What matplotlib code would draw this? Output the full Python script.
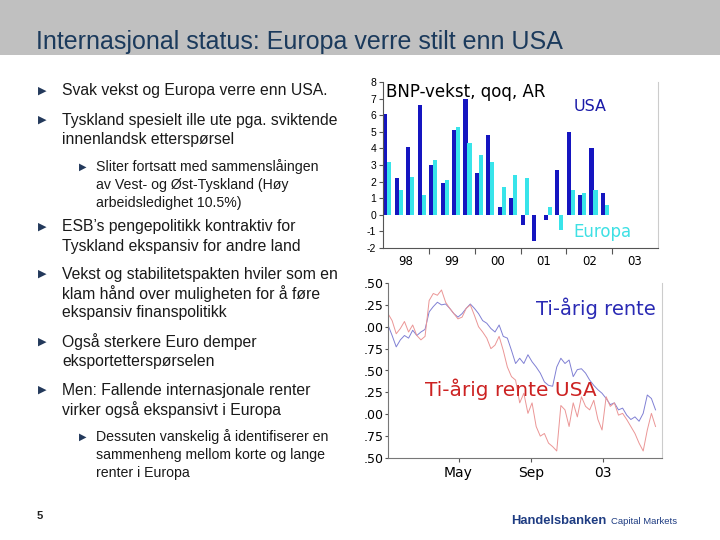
import numpy as np
import pandas as pd
import matplotlib
matplotlib.use("Agg")
import matplotlib.pyplot as plt
from matplotlib.ticker import FuncFormatter

plt.rcParams['font.family'] = ['Liberation Sans', 'DejaVu Sans']

# --- BNP-vekst, qoq, AR (1998Q1 - 2002Q4)
quarters = [str(y) + "Q" + str(q) for y in range(1998, 2003) for q in range(1, 5)]
bnp_usa = [6.1, 2.2, 4.1, 6.6, 3.0, 1.9, 5.1, 7.0, 2.5, 4.8,
           0.5, 1.0, -0.6, -1.6, -0.3, 2.7, 5.0, 1.2, 4.0, 1.3]
bnp_europa = [3.2, 1.5, 2.3, 1.2, 3.3, 2.1, 5.3, 4.3, 3.6, 3.2,
              1.7, 2.4, 2.2, 0.0, 0.5, -0.9, 1.5, 1.3, 1.5, 0.6]
year_labels = ["98", "99", "00", "01", "02", "03"]

# --- Ti-årig rente, ukentlig fra jan 2002
rente_europa = [5.02, 4.90, 4.77, 4.85, 4.90, 4.87, 4.96, 4.90, 4.94, 4.97,
                5.17, 5.23, 5.28, 5.25, 5.26, 5.21, 5.15, 5.11, 5.15, 5.21,
                5.26, 5.21, 5.15, 5.07, 5.04, 4.98, 4.94, 5.02, 4.89, 4.87,
                4.73, 4.58, 4.64, 4.58, 4.68, 4.60, 4.54, 4.47, 4.37, 4.33,
                4.32, 4.54, 4.64, 4.58, 4.62, 4.43, 4.51, 4.52, 4.47, 4.39,
                4.33, 4.28, 4.24, 4.18, 4.11, 4.13, 4.05, 4.07, 3.99, 3.94,
                3.97, 3.92, 4.01, 4.22, 4.18, 4.05]
rente_usa = [5.15, 5.07, 4.92, 4.98, 5.06, 4.94, 5.02, 4.90, 4.85, 4.89,
             5.30, 5.38, 5.36, 5.42, 5.28, 5.21, 5.15, 5.09, 5.11, 5.21,
             5.25, 5.13, 5.00, 4.94, 4.87, 4.75, 4.79, 4.89, 4.73, 4.54,
             4.43, 4.39, 4.13, 4.24, 4.01, 4.13, 3.86, 3.75, 3.78, 3.67,
             3.63, 3.58, 4.10, 4.05, 3.86, 4.13, 3.97, 4.20, 4.09, 4.05,
             4.16, 3.94, 3.82, 4.20, 4.09, 4.13, 3.99, 4.01, 3.94, 3.86,
             3.78, 3.67, 3.58, 3.82, 4.01, 3.86]
rente_dates = pd.date_range("2002-01-01", periods=len(rente_europa), freq="7D")

title = "Internasjonal status: Europa verre stilt enn USA"
bullets = [
    (0, ["Svak vekst og Europa verre enn USA."], 91),
    (0, ["Tyskland spesielt ille ute pga. sviktende", "innenlandsk etterspørsel"], 120),
    (1, ["Sliter fortsatt med sammenslåingen", "av Vest- og Øst-Tyskland (Høy",
         "arbeidsledighet 10.5%)"], 167),
    (0, ["ESB’s pengepolitikk kontraktiv for", "Tyskland ekspansiv for andre land"], 227),
    (0, ["Vekst og stabilitetspakten hviler som en", "klam hånd over muligheten for å føre",
         "ekspansiv finanspolitikk"], 274),
    (0, ["Også sterkere Euro demper", "eksportetterspørselen"], 342),
    (0, ["Men: Fallende internasjonale renter", "virker også ekspansivt i Europa"], 390),
    (1, ["Dessuten vanskelig å identifiserer en", "sammenheng mellom korte og lange",
         "renter i Europa"], 437),
]

W, H = 720, 540
fig = plt.figure(figsize=(7.2, 5.4), dpi=100)


def fx(x):
    return x / W


def fy(y):
    return 1 - y / H


# title bar
fig.patches.append(plt.Rectangle((0, fy(55)), 1, 55 / H, transform=fig.transFigure,
                                 facecolor="#c0c0c0", edgecolor="none", zorder=0))
fig.text(fx(36), fy(42), title, fontsize=18, color="#1b3a5c", va="center")

# bullets
navy = "#23395b"
for level, lines, y0 in bullets:
    if level == 0:
        xb, xt, fs, step, bs = 38, 62, 11.3, 19.3, 8
    else:
        xb, xt, fs, step, bs = 79, 96, 10.2, 18.2, 7
    fig.text(fx(xb), fy(y0), "▶", family="DejaVu Sans", fontsize=bs, color=navy, va="center")
    for i, line in enumerate(lines):
        fig.text(fx(xt), fy(y0 + i * step), line, fontsize=fs, color="#1a1a1a", va="center")

# footer
fig.text(fx(37), fy(516), "5", fontsize=8, fontweight="bold", color="#222222", va="center")
fig.text(fx(511), fy(521), "Handelsbanken", fontsize=9.3, fontweight="bold",
         color="#1e3c82", va="center")
fig.text(fx(611), fy(522), "Capital Markets", fontsize=6.8, color="#1e3c82", va="center")

chart_font = "DejaVu Sans"

# --- bar chart
ax1 = fig.add_axes([fx(383), fy(248), (658 - 383) / W, (248 - 82) / H])
pos = np.arange(len(quarters))
ax1.bar(pos + 0.2, bnp_usa, width=0.36, color="#1515c0")
ax1.bar(pos + 0.55, bnp_europa, width=0.36, color="#38e4ea")
ax1.set_xlim(0, 24)
ax1.set_ylim(-2, 8)
ax1.set_yticks(range(-2, 9))
ax1.set_yticklabels([str(v) for v in range(-2, 9)], fontsize=7.5)
ax1.set_xticks(np.arange(4, 24, 4))
ax1.set_xticklabels([])
ax1.set_xticks(np.arange(2, 24, 4), minor=True)
ax1.set_xticklabels(year_labels, minor=True, fontsize=8.5, family=chart_font)
ax1.tick_params(axis="x", which="minor", length=0, pad=5)
ax1.tick_params(axis="x", which="major", length=4, direction="out", color="#555555")
ax1.tick_params(axis="y", length=3, pad=2, color="#555555")
ax1.spines["top"].set_visible(False)
ax1.spines["right"].set_color("#cccccc")
ax1.spines["left"].set_color("#555555")
ax1.spines["bottom"].set_color("#555555")
ax1.text(0.3, 7.4, "BNP-vekst, qoq, AR", fontsize=12, family=chart_font,
         color="black", va="center")
ax1.text(16.6, 6.5, "USA", fontsize=11.5, family=chart_font, color="#1a1aa8", va="center")
ax1.text(16.6, -1.05, "Europa", fontsize=12, family=chart_font, color="#3ee0e4",
         va="center")

# --- line chart
ax2 = fig.add_axes([fx(388), fy(458), (662 - 388) / W, (458 - 283) / H])
ax2.plot(rente_dates, rente_europa, color="#8080d4", linewidth=0.7)
ax2.plot(rente_dates, rente_usa, color="#eb9696", linewidth=0.7)
ax2.set_xlim(pd.Timestamp("2002-01-01"), pd.Timestamp("2003-04-12"))
ax2.set_ylim(3.5, 5.5)
ax2.set_yticks(np.arange(3.5, 5.51, 0.25))
ax2.yaxis.set_major_formatter(FuncFormatter(lambda v, p: ("%.2f" % v)[1:]))
ax2.set_xticks([pd.Timestamp("2002-05-01"), pd.Timestamp("2002-09-01"),
                pd.Timestamp("2003-01-01")])
ax2.set_xticklabels(["May", "Sep", "03"], fontsize=10, family=chart_font)
for lab in ax2.get_yticklabels():
    lab.set_family(chart_font)
ax2.tick_params(axis="y", labelsize=9, length=2, pad=1, color="#555555")
ax2.tick_params(axis="x", length=3, pad=3, color="#555555")
ax2.spines["top"].set_visible(False)
ax2.spines["right"].set_color("#cccccc")
ax2.spines["left"].set_color("#777777")
ax2.spines["bottom"].set_color("#777777")
ax2.text(pd.Timestamp("2002-09-10"), 5.21, "Ti-årig rente", fontsize=14,
         family=chart_font, color="#2a2ab4", va="center")
ax2.text(pd.Timestamp("2002-03-05"), 4.28, "Ti-årig rente USA", fontsize=14.5,
         family=chart_font, color="#cc2222", va="center")

fig.savefig("out.png", dpi=100)
